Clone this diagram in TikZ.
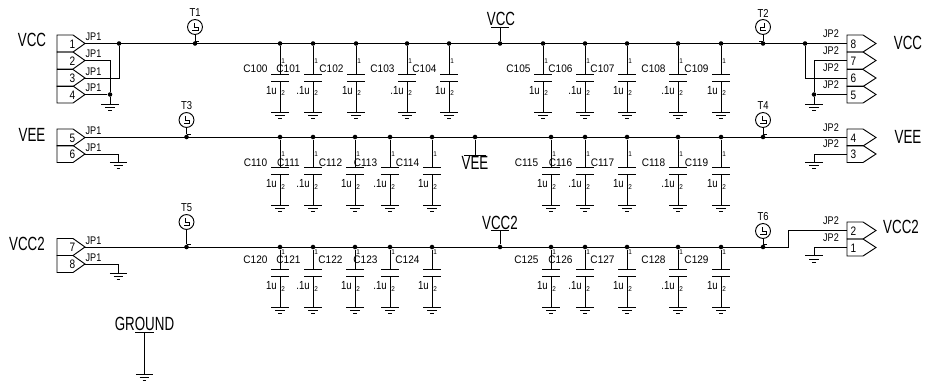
\documentclass[tikz,border=0pt]{standalone}
\usepackage{fontspec}
\setmainfont{Liberation Sans}
\newfontfamily\bigfam[FakeStretch=0.7]{Liberation Sans}
\newfontfamily\medfam[FakeStretch=0.92]{Liberation Sans}
\newfontfamily\narfam[FakeStretch=0.82]{Liberation Sans}
\tikzset{
  wire/.style={draw=black,line width=0.7pt},
  jdot/.style={circle,fill=black,inner sep=0pt,minimum size=3.4pt},
  netlabel/.style={inner sep=0pt,font=\bigfam\fontsize{14.3}{15}\selectfont},
  reflabel/.style={inner sep=0pt,font=\medfam\fontsize{8.2}{9}\selectfont},
  vallabel/.style={inner sep=0pt,anchor=east,font=\narfam\fontsize{8.8}{9}\selectfont},
  pinlabel/.style={inner sep=0pt,font=\narfam\fontsize{8.3}{9}\selectfont},
  pinnum/.style={inner sep=0pt,font=\narfam\fontsize{9.2}{10}\selectfont},
  tinylabel/.style={inner sep=0pt,font=\medfam\fontsize{5.2}{6}\selectfont},
  tlabel/.style={inner sep=0pt,font=\narfam\fontsize{8.6}{9}\selectfont},
  tpcircle/.style={circle,draw=black,line width=0.7pt,minimum size=11.2pt,inner sep=0pt}
}
% ground symbol at named coordinate: #1 name of the coordinate
\newcommand{\gndsym}[1]{%
  \draw[wire] ([xshift=-6.4pt]#1) -- ([xshift=6.4pt]#1);
  \draw[wire] ([xshift=-3.6pt,yshift=-2.7pt]#1) -- ([xshift=3.6pt,yshift=-2.7pt]#1);
  \draw[wire] ([xshift=-1.4pt,yshift=-5.2pt]#1) -- ([xshift=1.4pt,yshift=-5.2pt]#1);
}
% capacitor: #1 id, #2 x, #3 bus name, #4 bus y, #5 plate1 offset, #6 label offset, #7 value offset, #8 small1 offset, #9 value
\newcommand{\capsym}[9]{%
  \node[jdot] (j#1) at (#2,#4) {};
  \coordinate (pa#1) at (#2,#4+#5);
  \coordinate (pb#1) at (#2,#4+#5+7);
  \coordinate (g#1) at (#2,#4+#5+38);
  \draw[wire] (j#1) -- (pa#1);
  \draw[wire] (pb#1) -- (g#1);
  \draw[wire] ([xshift=-6.4pt]pa#1) -- ([xshift=6.4pt]pa#1);
  \draw[wire] ([xshift=-6.4pt]pb#1) -- ([xshift=6.4pt]pb#1);
  \gndsym{g#1}
  \node[reflabel] (l#1) at (#2-24.5,#4+#6) {C#1};
  \node[vallabel] (v#1) at (#2-3,#4+#7) {#9};
  \node[tinylabel] (sa#1) at (#2+3.2,#4+#8) {1};
  \node[tinylabel] (sb#1) at (#2+3.2,#4+#7+3) {2};
}
% left pin: #1 id, #2 y top, #3 number
\newcommand{\lpin}[3]{%
  \draw[wire] (57,#2) -- (73,#2) -- (85,#2+8.5) -- (73,#2+17) -- (57,#2+17) -- cycle;
  \coordinate (#1) at (85,#2+8.5);
  \node[pinnum] at (72.5,#2+9) {#3};
  \node[pinlabel] at (93.5,#2+2) {JP1};
}
\newcommand{\rpin}[3]{%
  \draw[wire] (847,#2) -- (863,#2) -- (876,#2+8.5) -- (863,#2+17) -- (847,#2+17) -- cycle;
  \coordinate (#1) at (847,#2+8.5);
  \node[pinnum] at (853.5,#2+9) {#3};
  \node[pinlabel] at (831,#2-1.5) {JP2};
}
% test point: #1 name, #2 x, #3 circle y, #4 bus y, #5 mirror (1 or -1)
\newcommand{\tpsym}[5]{%
  \node[tpcircle] (#1) at (#2,#3) {};
  \node[tlabel] (lab#1) at (#2,#3-14) {#1};
  \node[jdot] (jt#1) at (#2,#4) {};
  \draw[wire] (#1) -- (jt#1);
  \draw[wire] (#2-#5*1,#3-4) -- (#2-#5*1,#3) -- (#2+#5*3,#3) -- (#2+#5*3,#3+3) -- (#2-#5*3,#3+3);
  \draw[wire] (#2,#4-2.5) -- (#2+#5*4,#4-2.5);
}
\begin{document}
\begin{tikzpicture}[x=0.75pt,y=-0.75pt]
\useasboundingbox (0,0) rectangle (930,385);
% ---- left connectors
\lpin{a1}{35}{1}\lpin{a2}{52}{2}\lpin{a3}{69.5}{3}\lpin{a4}{86}{4}
\lpin{a5}{129}{5}\lpin{a6}{145.5}{6}
\lpin{a7}{238.5}{7}\lpin{a8}{255.5}{8}
% ---- right connectors
\rpin{b8}{35}{8}\rpin{b7}{52}{7}\rpin{b6}{69.5}{6}\rpin{b5}{86}{5}
\rpin{b4}{129}{4}\rpin{b3}{145.5}{3}
\rpin{b2}{222}{2}\rpin{b1}{239}{1}
% ---- row 1 capacitors
\capsym{100}{280}{r1}{43.5}{30.5}{25.5}{47}{18}{1u}
\capsym{101}{313}{r1}{43.5}{30.5}{25.5}{47}{18}{.1u}
\capsym{102}{356}{r1}{43.5}{30.5}{25.5}{47}{18}{1u}
\capsym{103}{407}{r1}{43.5}{30.5}{25.5}{47}{18}{.1u}
\capsym{104}{449}{r1}{43.5}{30.5}{25.5}{47}{18}{1u}
\capsym{105}{543}{r1}{43.5}{30.5}{25.5}{47}{18}{1u}
\capsym{106}{585}{r1}{43.5}{30.5}{25.5}{47}{18}{.1u}
\capsym{107}{627}{r1}{43.5}{30.5}{25.5}{47}{18}{1u}
\capsym{108}{678}{r1}{43.5}{30.5}{25.5}{47}{18}{.1u}
\capsym{109}{721}{r1}{43.5}{30.5}{25.5}{47}{18}{1u}
% ---- row 2 capacitors
\capsym{110}{280}{r2}{137}{30}{25.5}{47}{17}{1u}
\capsym{111}{313}{r2}{137}{30}{25.5}{47}{17}{.1u}
\capsym{112}{355}{r2}{137}{30}{25.5}{47}{17}{1u}
\capsym{113}{390}{r2}{137}{30}{25.5}{47}{17}{.1u}
\capsym{114}{432}{r2}{137}{30}{25.5}{47}{17}{1u}
\capsym{115}{551}{r2}{137}{30}{25.5}{47}{17}{1u}
\capsym{116}{585}{r2}{137}{30}{25.5}{47}{17}{.1u}
\capsym{117}{627}{r2}{137}{30}{25.5}{47}{17}{1u}
\capsym{118}{678}{r2}{137}{30}{25.5}{47}{17}{.1u}
\capsym{119}{721}{r2}{137}{30}{25.5}{47}{17}{1u}
% ---- row 3 capacitors
\capsym{120}{280}{r3}{247}{22}{13}{39}{5}{1u}
\capsym{121}{313}{r3}{247}{22}{13}{39}{5}{.1u}
\capsym{122}{355}{r3}{247}{22}{13}{39}{5}{1u}
\capsym{123}{390}{r3}{247}{22}{13}{39}{5}{.1u}
\capsym{124}{432}{r3}{247}{22}{13}{39}{5}{1u}
\capsym{125}{551}{r3}{247}{22}{13}{39}{5}{1u}
\capsym{126}{585}{r3}{247}{22}{13}{39}{5}{.1u}
\capsym{127}{627}{r3}{247}{22}{13}{39}{5}{1u}
\capsym{128}{678}{r3}{247}{22}{13}{39}{5}{.1u}
\capsym{129}{721}{r3}{247}{22}{13}{39}{5}{1u}
% ---- test points
\tpsym{T1}{195}{27}{43.5}{1}
\tpsym{T2}{763}{27}{43.5}{-1}
\tpsym{T3}{186.5}{120}{137}{1}
\tpsym{T4}{763}{120}{137}{1}
\tpsym{T5}{186.5}{222}{247}{1}
\tpsym{T6}{763}{231}{247}{1}
% ---- row 1 wiring
\node[jdot] (j1l) at (119,43.5) {};
\node[jdot] (j1r) at (805,43.5) {};
\node[jdot] (j1v) at (500,43.5) {};
\node[jdot] (jg1) at (110,94.5) {};
\node[jdot] (jg2) at (814,94.5) {};
\draw[wire] (a1) -- (b8);
\draw[wire] (a3) -| (j1l);
\draw[wire] (a2) -| (jg1);
\draw[wire] (a4) -- (jg1);
\coordinate (g1l) at (110,104);
\draw[wire] (jg1) -- (g1l);
\gndsym{g1l}
\draw[wire] (j1r) |- (b6);
\draw[wire] (b7) -| (jg2);
\draw[wire] (b5) -- (jg2);
\coordinate (g1r) at (814,104);
\draw[wire] (jg2) -- (g1r);
\gndsym{g1r}
\coordinate (vccbar) at (500,27);
\draw[wire] (j1v) -- (vccbar);
\draw[wire] ([xshift=-6.4pt]vccbar) -- ([xshift=6.4pt]vccbar);
\node[netlabel] (nvcc) at (501,18.5) {VCC};
% ---- row 2 wiring
\node[jdot] (j2v) at (475,137) {};
\draw[wire] (a5) -- (b4);
\coordinate (g2l) at (118.5,162);
\draw[wire] (a6) -| (g2l);
\gndsym{g2l}
\coordinate (g2r) at (814,162);
\draw[wire] (b3) -| (g2r);
\gndsym{g2r}
\coordinate (veebar) at (475,155);
\draw[wire] (j2v) -- (veebar);
\draw[wire] ([xshift=-8pt]veebar) -- ([xshift=8pt]veebar);
\node[netlabel] (nveem) at (475,163) {VEE};
% ---- row 3 wiring
\node[jdot] (j3v) at (500,247) {};
\coordinate (k3) at (788,247);
\draw[wire] (a7) -- (k3) |- (b2);
\coordinate (g3l) at (118.5,273);
\draw[wire] (a8) -| (g3l);
\gndsym{g3l}
\coordinate (g3r) at (814,255.5);
\draw[wire] (b1) -| (g3r);
\gndsym{g3r}
\coordinate (vcc2bar) at (500,230);
\draw[wire] (j3v) -- (vcc2bar);
\draw[wire] ([xshift=-6.8pt]vcc2bar) -- ([xshift=6.8pt]vcc2bar);
\node[netlabel] (nvcc2) at (500,222.5) {VCC2};
% ---- ground flag
\coordinate (gndbar) at (144.5,332);
\coordinate (gndg) at (144.5,374);
\draw[wire] (gndbar) -- (gndg);
\draw[wire] ([xshift=-6.8pt]gndbar) -- ([xshift=6.8pt]gndbar);
\gndsym{gndg}
\node[netlabel] (ngnd) at (144.5,324) {GROUND};
% ---- net labels
\node[netlabel] (n1) at (32,40) {VCC};
\node[netlabel] (n2) at (908,43) {VCC};
\node[netlabel] (n3) at (32,134.5) {VEE};
\node[netlabel] (n4) at (908,137) {VEE};
\node[netlabel] (n5) at (27,244) {VCC2};
\node[netlabel] (n6) at (901,227) {VCC2};
\end{tikzpicture}
\end{document}
